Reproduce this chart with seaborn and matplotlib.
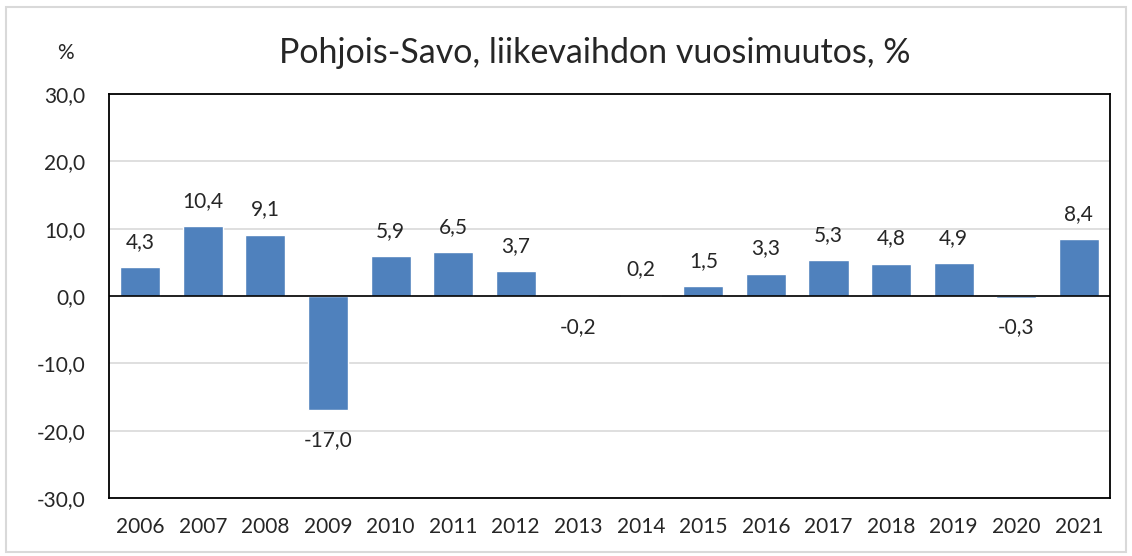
import numpy as np
import pandas as pd
import matplotlib
matplotlib.use('Agg')
import matplotlib.pyplot as plt
import seaborn as sns

years = ['2006', '2007', '2008', '2009', '2010', '2011', '2012', '2013',
         '2014', '2015', '2016', '2017', '2018', '2019', '2020', '2021']
change = [4.3, 10.4, 9.1, -17.0, 5.9, 6.5, 3.7, -0.2,
          0.2, 1.5, 3.3, 5.3, 4.8, 4.9, -0.3, 8.4]
yticks = [-30, -20, -10, 0, 10, 20, 30]

sns.set_style('white')
plt.rcParams['font.family'] = ['Lato', 'DejaVu Sans']

df = pd.DataFrame({'vuosi': years, 'muutos': change})

fig = plt.figure(figsize=(11.32, 5.56), dpi=100)
ax = fig.add_axes([0.0963, 0.1043, 0.8843, 0.7267])

sns.barplot(data=df, x='vuosi', y='muutos', color='#4F81BD', saturation=1,
            width=0.64, ax=ax, zorder=3)

ax.set_ylim(-30, 30)
ax.set_yticks(yticks)
ax.set_yticklabels([f'{t:.1f}'.replace('.', ',') for t in yticks], fontsize=15)
ax.tick_params(axis='x', labelsize=15, length=0, pad=14)
ax.tick_params(axis='y', length=0, pad=17)
ax.set_xlim(-0.5, len(years) - 0.5)
ax.yaxis.grid(True, color='#d9d9d9', linewidth=1.2, zorder=0)
ax.axhline(0, color='black', linewidth=1.2, zorder=4)
ax.set_xlabel('')
ax.set_ylabel('')
for s in ax.spines.values():
    s.set_visible(True)
    s.set_color('black')
    s.set_linewidth(1.3)

# data labels: above positive bars, below negative ones
for i, v in enumerate(change):
    lbl = f'{v:.1f}'.replace('.', ',')
    if v >= 0:
        ax.annotate(lbl, (i, v), xytext=(0, 11), textcoords='offset points',
                    ha='center', va='bottom', fontsize=15)
    else:
        ax.annotate(lbl, (i, v), xytext=(0, -14), textcoords='offset points',
                    ha='center', va='top', fontsize=15)

fig.text(0.525, 0.905, 'Pohjois-Savo, liikevaihdon vuosimuutos, %',
         ha='center', va='center', fontsize=24.5)
fig.text(0.058, 0.905, '%', ha='center', va='center', fontsize=15)

# light frame around the whole chart
fig.patches.append(plt.Rectangle((0.005, 0.008), 0.99, 0.98, transform=fig.transFigure,
                                 fill=False, edgecolor='#d9d9d9', linewidth=1.5))

fig.savefig('out.png', dpi=100)
